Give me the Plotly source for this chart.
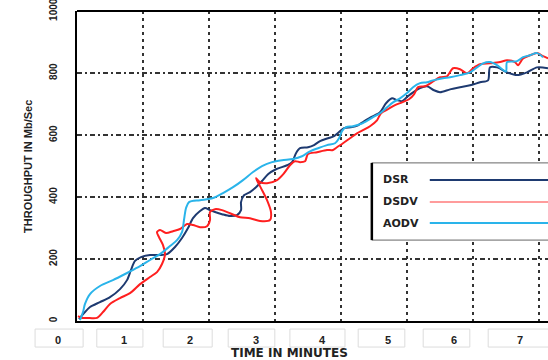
import plotly.graph_objects as go

# ---- data (time in minutes, throughput in Mb/Sec) ----
dsr_t = [0.030, 0.121, 0.197, 0.348, 0.5, 0.652, 0.758, 0.818, 0.879, 0.970, 1.106, 1.258, 1.364,
         1.485, 1.591, 1.682, 1.758, 1.864, 1.939, 2.015, 2.091, 2.197, 2.318, 2.424, 2.485, 2.485,
         2.530, 2.621, 2.712, 2.803, 2.894, 3.015, 3.182, 3.258, 3.318, 3.379, 3.5, 3.591, 3.682,
         3.803, 3.894, 3.970, 4.045, 4.167, 4.258, 4.348, 4.455, 4.591, 4.682, 4.773, 4.848, 4.924,
         5.0, 5.076, 5.197, 5.303, 5.409, 5.5, 5.652, 5.803, 5.955, 6.106, 6.227, 6.258, 6.364,
         6.515, 6.667, 6.818, 6.970, 7.136]
dsr_v = [6, 29, 45, 61, 77, 103, 132, 165, 194, 206, 213, 213, 216,
         239, 268, 300, 332, 355, 365, 358, 352, 345, 339, 342, 358, 384,
         406, 416, 432, 452, 474, 490, 503, 513, 542, 558, 561, 568, 581,
         590, 597, 610, 623, 626, 632, 645, 658, 674, 703, 719, 713, 710,
         723, 736, 752, 758, 745, 739, 748, 755, 761, 771, 777, 819, 819,
         803, 794, 803, 819, 816]

dsdv_t = [0.015, 0.076, 0.152, 0.303, 0.394, 0.5, 0.652, 0.803, 0.955, 1.106, 1.212, 1.288, 1.333,
          1.303, 1.242, 1.212, 1.258, 1.348, 1.455, 1.561, 1.667, 1.758, 1.864, 1.970, 2.015, 2.015,
          2.091, 2.197, 2.318, 2.470, 2.621, 2.773, 2.924, 2.939, 2.879, 2.788, 2.712, 2.773, 2.879,
          3.030, 3.136, 3.227, 3.303, 3.379, 3.455, 3.5, 3.636, 3.788, 3.879, 3.939, 4.030, 4.136,
          4.242, 4.333, 4.439, 4.545, 4.606, 4.712, 4.818, 4.924, 5.030, 5.106, 5.167, 5.273, 5.379,
          5.5, 5.606, 5.697, 5.803, 5.909, 6.0, 6.106, 6.258, 6.409, 6.515, 6.636, 6.682, 6.758,
          6.864, 6.970, 7.061, 7.136]
dsdv_v = [16, 10, 10, 10, 29, 55, 74, 90, 119, 142, 158, 184, 216,
          245, 271, 287, 294, 284, 290, 297, 313, 310, 303, 306, 326, 352,
          361, 358, 348, 335, 332, 323, 326, 352, 390, 429, 461, 448, 445,
          455, 477, 503, 516, 513, 516, 539, 545, 552, 552, 561, 574, 590,
          606, 616, 629, 648, 671, 684, 697, 706, 716, 732, 755, 758, 771,
          787, 790, 816, 813, 800, 816, 829, 832, 836, 842, 836, 826, 848,
          858, 865, 855, 848]

aodv_t = [0.045, 0.091, 0.121, 0.197, 0.348, 0.545, 0.758, 0.955, 1.106, 1.258, 1.409, 1.515, 1.591,
          1.621, 1.652, 1.697, 1.864, 2.061, 2.212, 2.364, 2.515, 2.667, 2.803, 2.955, 3.106, 3.273,
          3.409, 3.530, 3.652, 3.788, 3.909, 3.970, 4.015, 4.076, 4.182, 4.333, 4.485, 4.591, 4.697,
          4.788, 4.894, 5.0, 5.091, 5.197, 5.303, 5.394, 5.545, 5.652, 5.803, 5.955, 6.061, 6.152,
          6.258, 6.364, 6.5, 6.515, 6.667, 6.758, 6.864, 6.970, 7.061]
aodv_v = [3, 29, 55, 87, 113, 132, 155, 177, 197, 216, 242, 261, 287,
          326, 365, 384, 390, 397, 413, 432, 455, 481, 500, 513, 519, 523,
          532, 548, 558, 568, 574, 590, 613, 626, 629, 639, 658, 671, 690,
          706, 719, 736, 755, 768, 771, 777, 784, 787, 794, 803, 819, 832,
          836, 826, 806, 836, 839, 852, 858, 865, 852]

x_ticks = [0, 1, 2, 3, 4, 5, 6, 7]
x_labels = ["0", "1", "2", "3", "4", "5", "6", "7"]
y_ticks = [0, 200, 400, 600, 800, 1000]
y_labels = ["0", "200", "400", "600", "800", "1000"]

series_names = ["DSR", "DSDV", "AODV"]
series_colors = ["#1e3a70", "#ff1f1f", "#2ab4ea"]
legend_colors = ["#1e3a70", "#ff9c9c", "#2ab4ea"]

fig = go.Figure()
for name, t, v, c in zip(series_names, [dsr_t, dsdv_t, aodv_t], [dsr_v, dsdv_v, aodv_v], series_colors):
    fig.add_trace(go.Scatter(x=t, y=v, mode="lines", name=name,
                             line=dict(color=c, width=2, shape="spline", smoothing=0.8)))

bold = dict(family="Liberation Sans", size=11, color="#222", weight="bold")

fig.update_layout(
    width=548, height=360,
    margin=dict(l=77, r=0, t=11, b=39),
    paper_bgcolor="white", plot_bgcolor="white",
    showlegend=False,
    xaxis=dict(range=[0, 7.136], tickvals=x_ticks, ticktext=x_labels, automargin=False,
               showgrid=True, gridcolor="#333", gridwidth=1.5, griddash="3px,4px",
               zeroline=False, showline=True, linecolor="black", linewidth=2,
               ticks="", tickfont=bold, ticklabelshift=-19, ticklabelstandoff=8),
    yaxis=dict(range=[0, 1001], tickvals=y_ticks, ticktext=y_labels, tickangle=-90, automargin=False,
               showgrid=True, gridcolor="#333", gridwidth=1.5, griddash="5px,3px,2px,3px",
               zeroline=False, showline=True, linecolor="black", linewidth=2,
               ticks="", tickfont=dict(family="Liberation Sans", size=10, color="#222", weight="bold"),
               ticklabelstandoff=14, ticklabeloverflow="allow"),
)

# top border
fig.add_shape(type="line", xref="paper", yref="paper", x0=0, x1=1, y0=1, y1=1,
              line=dict(color="black", width=2))

# faint boxes around x tick labels (as in the scanned figure)
box_x = [(-0.089, 0.013), (0.042, 0.140), (0.183, 0.287), (0.321, 0.420),
         (0.452, 0.569), (0.597, 0.696), (0.735, 0.834), (0.873, 1.03)]
for x0, x1 in box_x:
    fig.add_shape(type="rect", xref="paper", yref="paper", x0=x0, x1=x1, y0=-0.084, y1=-0.026,
                  line=dict(color="#dcdcdc", width=1), fillcolor="rgba(0,0,0,0)")

# legend box
fig.add_shape(type="rect", xref="paper", yref="paper", x0=0.626, x1=1.05, y0=0.261, y1=0.510,
              line=dict(color="#666", width=1), fillcolor="white")
fig.add_shape(type="line", xref="paper", yref="paper", x0=0.626, x1=0.626, y0=0.261, y1=0.510,
              line=dict(color="black", width=2.5))
leg_y = [0.455, 0.384, 0.316]
for name, c, yy in zip(series_names, legend_colors, leg_y):
    fig.add_shape(type="line", xref="paper", yref="paper", x0=0.749, x1=1.0, y0=yy, y1=yy,
                  line=dict(color=c, width=2))
    fig.add_annotation(xref="paper", yref="paper", x=0.646, y=yy, text=name, showarrow=False,
                       xanchor="left", yanchor="middle",
                       font=dict(family="DejaVu Sans", size=11, color="#222", weight="bold"))

# axis titles
fig.add_annotation(xref="paper", yref="paper", x=0.452, y=-0.103, text="TIME IN MINUTES",
                   showarrow=False, xanchor="center", yanchor="middle",
                   font=dict(family="DejaVu Sans", size=12, color="#222", weight="bold"))
fig.add_annotation(xref="paper", yref="paper", x=-0.104, y=0.497, text="THROUGHPUT IN Mb/Sec",
                   showarrow=False, xanchor="center", yanchor="middle", textangle=-90,
                   font=dict(family="Liberation Sans", size=11, color="#222", weight="bold"))

fig.write_html("out.html", config={"displayModeBar": False},
               post_script="document.body.style.margin='0px';document.body.style.overflow='hidden';")
